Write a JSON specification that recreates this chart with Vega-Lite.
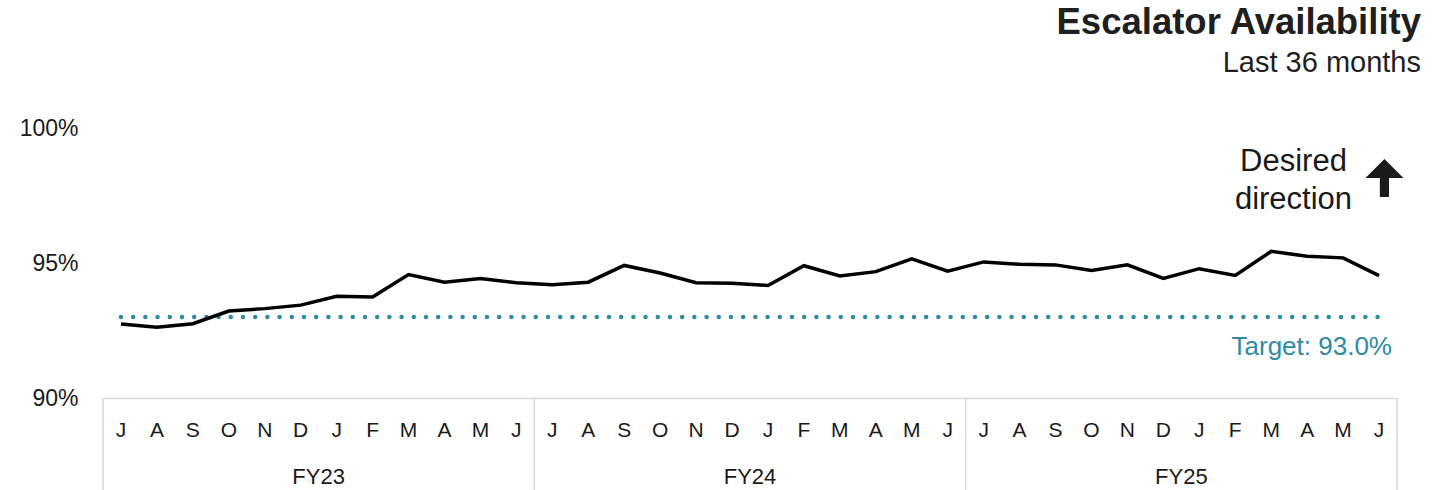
{
  "$schema": "https://vega.github.io/schema/vega-lite/v6.json",
  "autosize": {"type": "none"},
  "padding": {"left": 103, "top": 128, "right": 42, "bottom": 92},
  "width": 1294,
  "height": 270,
  "background": "white",
  "config": {
    "view": {"stroke": null},
    "font": "Liberation Sans",
    "text": {"font": "Liberation Sans"}
  },
  "title": {
    "text": "Escalator Availability",
    "subtitle": "Last 36 months",
    "anchor": "end",
    "frame": "group",
    "dx": 24,
    "offset": 39,
    "font": "Liberation Sans",
    "fontSize": 36.5,
    "fontWeight": "bold",
    "color": "#1f1f1f",
    "subtitleFont": "Liberation Sans",
    "subtitleFontSize": 29,
    "subtitleColor": "#1f1f1f",
    "subtitlePadding": 8
  },
  "datasets": {
    "series": [
      {"month": "2022-07", "fy": "FY23", "value": 92.74},
      {"month": "2022-08", "fy": "FY23", "value": 92.62},
      {"month": "2022-09", "fy": "FY23", "value": 92.75},
      {"month": "2022-10", "fy": "FY23", "value": 93.22},
      {"month": "2022-11", "fy": "FY23", "value": 93.31},
      {"month": "2022-12", "fy": "FY23", "value": 93.44},
      {"month": "2023-01", "fy": "FY23", "value": 93.77},
      {"month": "2023-02", "fy": "FY23", "value": 93.74},
      {"month": "2023-03", "fy": "FY23", "value": 94.57},
      {"month": "2023-04", "fy": "FY23", "value": 94.29},
      {"month": "2023-05", "fy": "FY23", "value": 94.43},
      {"month": "2023-06", "fy": "FY23", "value": 94.27},
      {"month": "2023-07", "fy": "FY24", "value": 94.19},
      {"month": "2023-08", "fy": "FY24", "value": 94.29},
      {"month": "2023-09", "fy": "FY24", "value": 94.91},
      {"month": "2023-10", "fy": "FY24", "value": 94.63},
      {"month": "2023-11", "fy": "FY24", "value": 94.27},
      {"month": "2023-12", "fy": "FY24", "value": 94.25},
      {"month": "2024-01", "fy": "FY24", "value": 94.17},
      {"month": "2024-02", "fy": "FY24", "value": 94.90},
      {"month": "2024-03", "fy": "FY24", "value": 94.52},
      {"month": "2024-04", "fy": "FY24", "value": 94.68},
      {"month": "2024-05", "fy": "FY24", "value": 95.15},
      {"month": "2024-06", "fy": "FY24", "value": 94.70},
      {"month": "2024-07", "fy": "FY25", "value": 95.04},
      {"month": "2024-08", "fy": "FY25", "value": 94.95},
      {"month": "2024-09", "fy": "FY25", "value": 94.93},
      {"month": "2024-10", "fy": "FY25", "value": 94.72},
      {"month": "2024-11", "fy": "FY25", "value": 94.93},
      {"month": "2024-12", "fy": "FY25", "value": 94.43},
      {"month": "2025-01", "fy": "FY25", "value": 94.79},
      {"month": "2025-02", "fy": "FY25", "value": 94.54},
      {"month": "2025-03", "fy": "FY25", "value": 95.43},
      {"month": "2025-04", "fy": "FY25", "value": 95.25},
      {"month": "2025-05", "fy": "FY25", "value": 95.19},
      {"month": "2025-06", "fy": "FY25", "value": 94.53}
    ],
    "fyLabels": [
      {"month": "2023-01", "label": "FY23", "value": 87.08},
      {"month": "2024-01", "label": "FY24", "value": 87.08},
      {"month": "2025-01", "label": "FY25", "value": 87.08}
    ],
    "fyStarts": [
      {"month": "2022-07", "top": 90, "bottom": 86.4},
      {"month": "2023-07", "top": 90, "bottom": 86.4},
      {"month": "2024-07", "top": 90, "bottom": 86.4}
    ],
    "fyEnd": [
      {"month": "2025-06", "top": 90, "bottom": 86.4}
    ],
    "targetNote": [{"month": "2025-06", "value": 91.9}],
    "directionNote": [{"month": "2025-04", "value": 98.74}],
    "arrow": [{"month": "2025-06", "value": 98.15}]
  },
  "layer": [
    {
      "data": {"name": "series"},
      "mark": {"type": "line", "color": "#2f8ba3", "strokeWidth": 4.5, "strokeCap": "round", "strokeDash": [0, 12.2]},
      "encoding": {
        "x": {
          "field": "month", "type": "ordinal", "sort": "ascending",
          "scale": {"type": "band", "paddingInner": 0, "paddingOuter": 0},
          "axis": {
            "title": null, "labelAngle": 0, "ticks": false, "tickSize": 0, "grid": false,
            "domain": true, "domainColor": "#d9d9d9", "domainWidth": 1.5,
            "labelFont": "Liberation Sans", "labelFontSize": 21, "labelColor": "#1a1a1a",
            "labelPadding": 21,
            "labelExpr": "substring('JFMAMJJASOND', toNumber(substring(datum.value,5,7))-1, toNumber(substring(datum.value,5,7)))"
          }
        },
        "y": {"datum": 93, "type": "quantitative"}
      }
    },
    {
      "data": {"name": "series"},
      "mark": {"type": "line", "color": "#000000", "strokeWidth": 3.5, "strokeJoin": "miter"},
      "encoding": {
        "x": {"field": "month", "type": "ordinal", "sort": "ascending"},
        "y": {
          "field": "value", "type": "quantitative",
          "scale": {"domain": [90, 100], "nice": false, "zero": false},
          "axis": {
            "title": null, "values": [90, 95, 100], "domain": false, "ticks": false, "tickSize": 0,
            "grid": false, "labelFont": "Liberation Sans", "labelFontSize": 23, "labelColor": "#1a1a1a",
            "labelPadding": 25, "labelExpr": "datum.value + '%'"
          }
        }
      }
    },
    {
      "data": {"name": "fyStarts"},
      "mark": {"type": "rule", "color": "#d9d9d9", "strokeWidth": 1.5},
      "encoding": {
        "x": {"field": "month", "type": "ordinal", "bandPosition": 0},
        "y": {"field": "top", "type": "quantitative"},
        "y2": {"field": "bottom"}
      }
    },
    {
      "data": {"name": "fyEnd"},
      "mark": {"type": "rule", "color": "#d9d9d9", "strokeWidth": 1.5},
      "encoding": {
        "x": {"field": "month", "type": "ordinal", "bandPosition": 1},
        "y": {"field": "top", "type": "quantitative"},
        "y2": {"field": "bottom"}
      }
    },
    {
      "data": {"name": "fyLabels"},
      "mark": {"type": "text", "fontSize": 22, "color": "#1a1a1a", "baseline": "middle", "align": "center"},
      "encoding": {
        "x": {"field": "month", "type": "ordinal", "bandPosition": 0},
        "y": {"field": "value", "type": "quantitative"},
        "text": {"field": "label"}
      }
    },
    {
      "data": {"name": "targetNote"},
      "mark": {"type": "text", "text": "Target: 93.0%", "fontSize": 26, "color": "#2f8ba3", "baseline": "middle", "align": "right"},
      "encoding": {
        "x": {"field": "month", "type": "ordinal", "bandPosition": 0.86},
        "y": {"field": "value", "type": "quantitative"}
      }
    },
    {
      "data": {"name": "directionNote"},
      "mark": {"type": "text", "text": ["Desired", "direction"], "fontSize": 31, "lineHeight": 38, "color": "#1a1a1a", "baseline": "middle", "align": "center"},
      "encoding": {
        "x": {"field": "month", "type": "ordinal", "bandPosition": 0.12},
        "y": {"field": "value", "type": "quantitative"}
      }
    },
    {
      "data": {"name": "arrow"},
      "mark": {"type": "point", "filled": true, "opacity": 1, "color": "#1a1a1a", "size": 1444,
               "shape": "M 0 -1 L 1 0 L 0.24 0 L 0.24 1 L -0.24 1 L -0.24 0 L -1 0 Z"},
      "encoding": {
        "x": {"field": "month", "type": "ordinal", "bandPosition": 0.65},
        "y": {"field": "value", "type": "quantitative"}
      }
    }
  ]
}
